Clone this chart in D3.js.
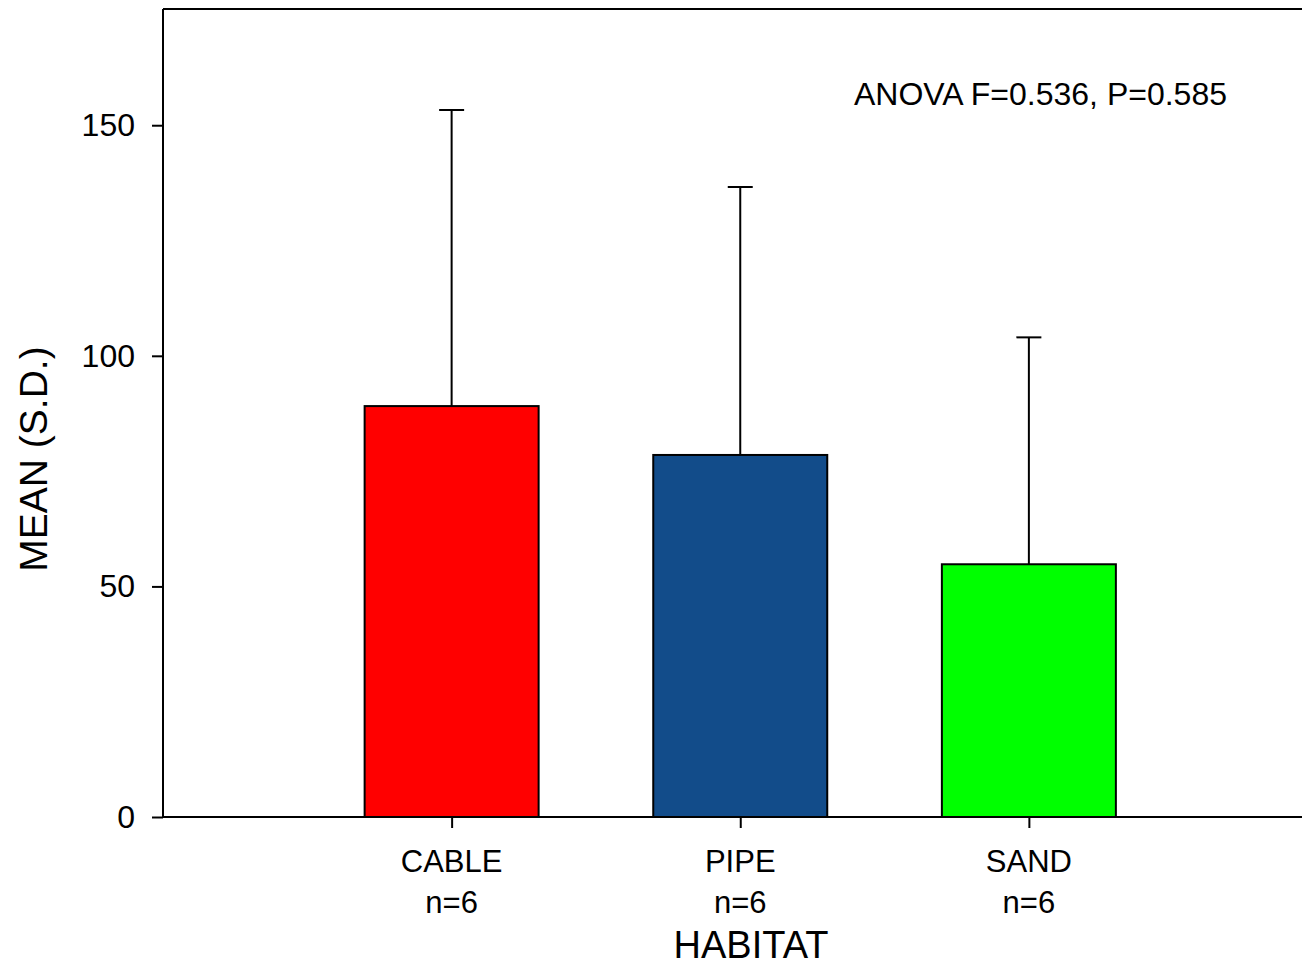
<!DOCTYPE html>
<html>
<head>
<meta charset="utf-8">
<script src="https://cdn.jsdelivr.net/npm/d3@7"></script>
<style>
body { margin: 0; background: #fff; }
text { font-family: "Liberation Sans", Arial, sans-serif; }
</style>
</head>
<body>
<div id="chart"></div>
<script>
var w = 1302;
var h = 966;

var habitats = ["CABLE", "PIPE", "SAND"];
var nLabels = ["n=6", "n=6", "n=6"];
var means = [89.1, 78.5, 54.8];
var sds = [64.2, 58.1, 49.2];
var colors = ["#ff0000", "#124c8a", "#00ff00"];
var yTicks = [0, 50, 100, 150];

var padLeft = 163, padTop = 9, padBottom = 817;

var svg = d3.select("#chart").append("svg")
    .attr("width", w)
    .attr("height", h);

// x positions: categories at 1,2,3 on a 0..4 scale
var xScale = d3.scaleLinear().domain([0, 4]).range([padLeft, 1317.5]);
var yScale = d3.scaleLinear().domain([0, 175.2]).range([padBottom, padTop]);
var barW = 174;

// error bars (drawn first, bars cover lower part)
svg.selectAll("line.err")
   .data(habitats)
   .enter()
   .append("line")
   .attr("class", "err")
   .attr("x1", function(d, i) { return xScale(i + 1); })
   .attr("x2", function(d, i) { return xScale(i + 1); })
   .attr("y1", function(d, i) { return yScale(means[i]); })
   .attr("y2", function(d, i) { return yScale(means[i] + sds[i]); })
   .attr("stroke", "#000")
   .attr("stroke-width", 2);

svg.selectAll("line.cap")
   .data(habitats)
   .enter()
   .append("line")
   .attr("class", "cap")
   .attr("x1", function(d, i) { return xScale(i + 1) - 12.5; })
   .attr("x2", function(d, i) { return xScale(i + 1) + 12.5; })
   .attr("y1", function(d, i) { return yScale(means[i] + sds[i]); })
   .attr("y2", function(d, i) { return yScale(means[i] + sds[i]); })
   .attr("stroke", "#000")
   .attr("stroke-width", 2);

// bars
svg.selectAll("rect.bar")
   .data(habitats)
   .enter()
   .append("rect")
   .attr("class", "bar")
   .attr("x", function(d, i) { return xScale(i + 1) - barW / 2; })
   .attr("y", function(d, i) { return yScale(means[i]); })
   .attr("width", barW)
   .attr("height", function(d, i) { return padBottom - yScale(means[i]); })
   .attr("fill", function(d, i) { return colors[i]; })
   .attr("stroke", "#000")
   .attr("stroke-width", 2);

// frame top
svg.append("line")
   .attr("x1", padLeft).attr("x2", w)
   .attr("y1", padTop).attr("y2", padTop)
   .attr("stroke", "#000").attr("stroke-width", 2);

// Y axis
var yAxis = d3.axisLeft(yScale)
    .tickValues(yTicks)
    .tickSize(11)
    .tickPadding(17)
    .tickFormat(d3.format("d"));

var gy = svg.append("g")
    .attr("class", "y axis")
    .attr("transform", "translate(" + padLeft + ",0)")
    .call(yAxis);
gy.select(".domain").attr("d", "M0," + padTop + "V" + padBottom).attr("stroke-width", 2);
gy.selectAll(".tick line").attr("stroke-width", 2);
gy.selectAll(".tick text")
  .attr("font-size", 32)
  .attr("font-family", "Liberation Sans, Arial, sans-serif")
  .attr("fill", "#000");

// X axis
var xAxis = d3.axisBottom(xScale)
    .tickValues([1, 2, 3])
    .tickSize(11)
    .tickFormat("");

var gx = svg.append("g")
    .attr("class", "x axis")
    .attr("transform", "translate(0," + padBottom + ")")
    .call(xAxis);
gx.select(".domain").attr("d", "M" + padLeft + ",0H" + w).attr("stroke-width", 2);
gx.selectAll(".tick line").attr("stroke-width", 2);

// category labels
svg.selectAll("text.cat")
   .data(habitats)
   .enter()
   .append("text")
   .attr("class", "cat")
   .attr("x", function(d, i) { return xScale(i + 1); })
   .attr("y", 872)
   .attr("text-anchor", "middle")
   .attr("font-size", 31)
   .text(function(d) { return d; });

svg.selectAll("text.n")
   .data(nLabels)
   .enter()
   .append("text")
   .attr("class", "n")
   .attr("x", function(d, i) { return xScale(i + 1); })
   .attr("y", 913)
   .attr("text-anchor", "middle")
   .attr("font-size", 31)
   .text(function(d) { return d; });

// axis titles
svg.append("text")
   .attr("x", 751)
   .attr("y", 958)
   .attr("text-anchor", "middle")
   .attr("font-size", 38)
   .text("HABITAT");

svg.append("text")
   .attr("transform", "translate(47,459) rotate(-90)")
   .attr("text-anchor", "middle")
   .attr("font-size", 39)
   .text("MEAN (S.D.)");

// annotation
svg.append("text")
   .attr("x", 854)
   .attr("y", 105)
   .attr("font-size", 32)
   .text("ANOVA F=0.536, P=0.585");
</script>
</body>
</html>
